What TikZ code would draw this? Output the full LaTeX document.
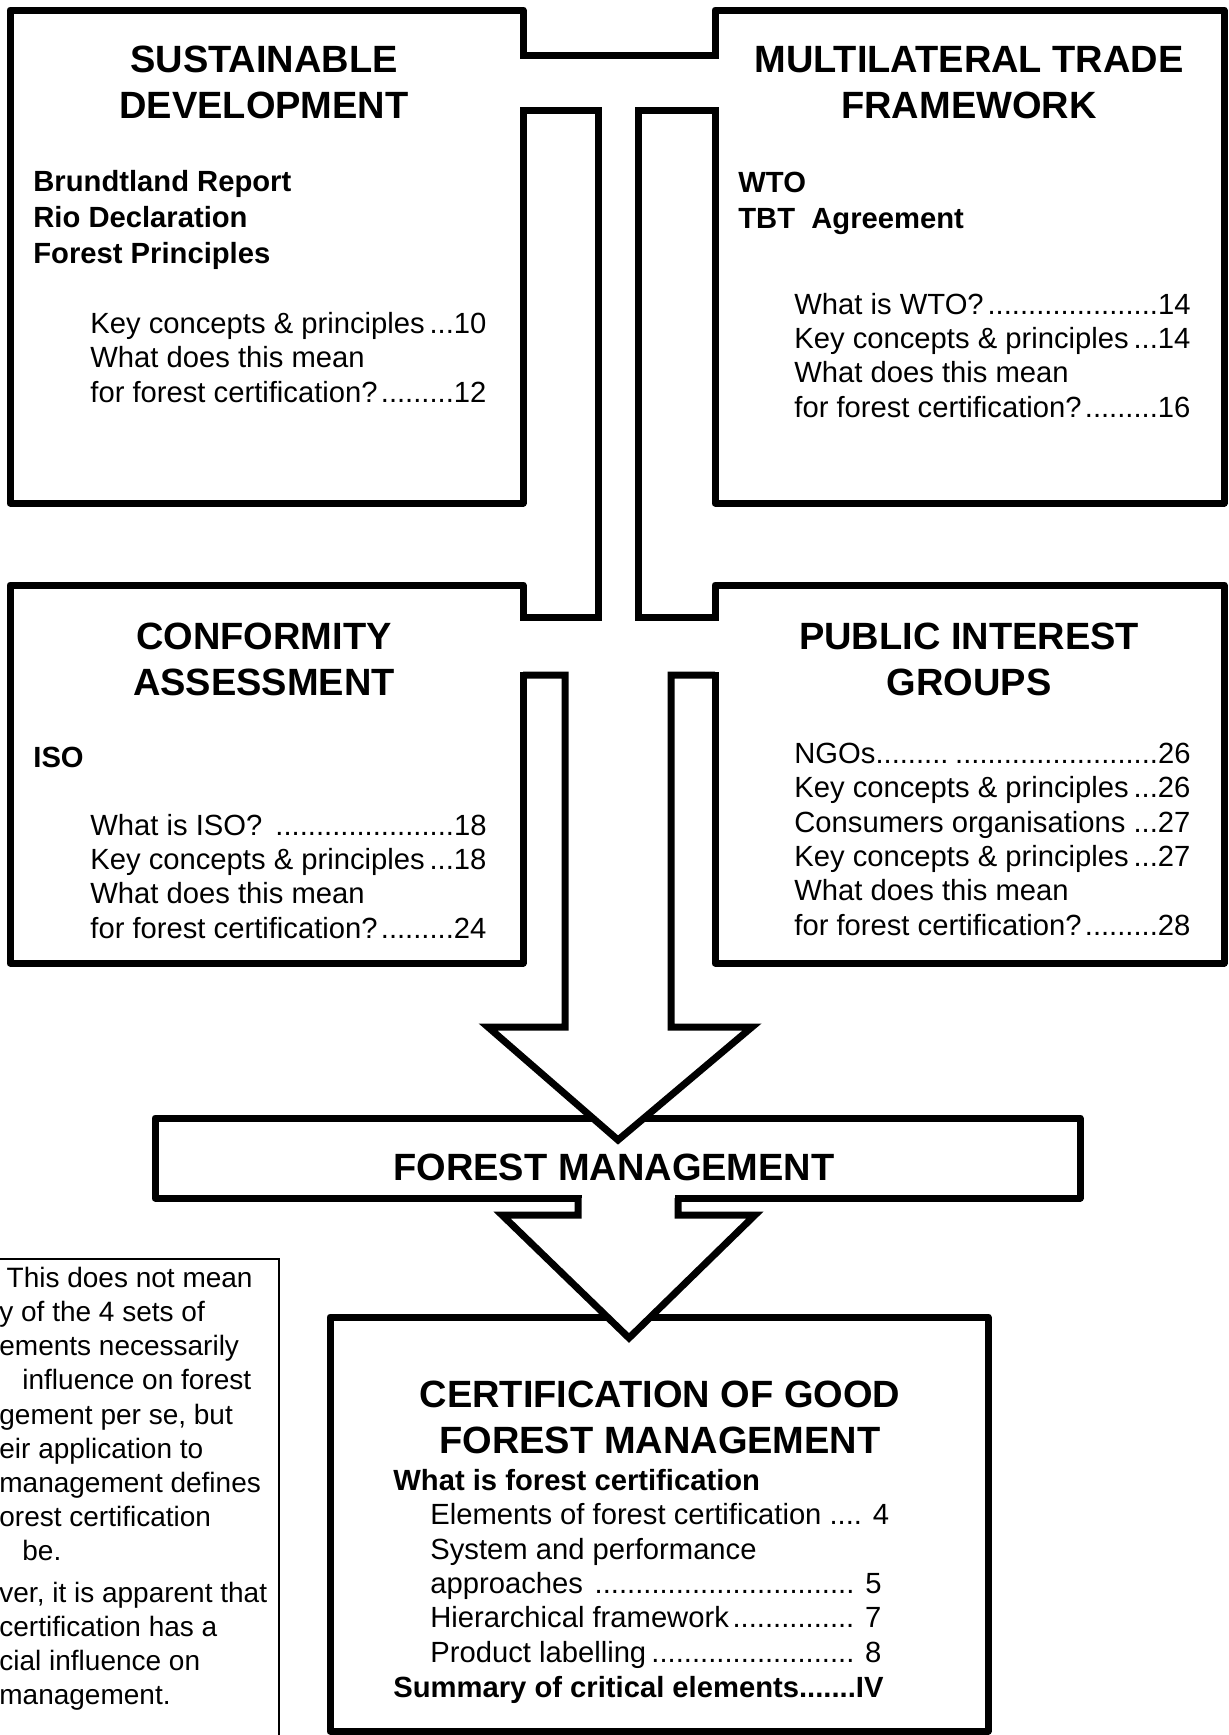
\documentclass[tikz,border=0pt]{standalone}
\usepackage{fontspec}
\setmainfont{Liberation Sans}
\usepackage{tikz}
\tikzstyle{frame} = [rectangle, draw=black, line width=3.5pt, line join=round,
    inner sep=0pt, outer sep=0pt]
\tikzstyle{band} = [draw=black, line width=3.5pt]
\tikzstyle{title} = [anchor=base, align=center, inner sep=0pt,
    font=\fontsize{19}{23}\selectfont\bfseries]
\tikzstyle{heads} = [anchor=base west, align=left, inner sep=0pt,
    font=\fontsize{14.6}{18}\selectfont\bfseries]
\tikzstyle{toc} = [anchor=base west, align=left, inner sep=0pt,
    font=\fontsize{14.6}{17.15}\selectfont]
\tikzstyle{notetext} = [inner sep=0pt, font=\fontsize{14}{17}\selectfont]
\newcommand{\pageentry}[3][198pt]{\makebox[#1][l]{#2\hfill#3}}

\begin{document}
\begin{tikzpicture}[x=0.5pt, y=-0.5pt]
  \useasboundingbox (0,0) rectangle (1228,1735);
  \clip (0,0) rectangle (1228,1735);

  % the four boxes
  \node (sd)  [frame, minimum width=256.5pt, minimum height=246.5pt] at (266.5,256.5) {};
  \node (mtf) [frame, minimum width=254.5pt, minimum height=246.5pt] at (969.5,256.5) {};
  \node (ca)  [frame, minimum width=256.5pt, minimum height=189pt] at (266.5,774) {};
  \node (pig) [frame, minimum width=254.5pt, minimum height=189pt] at (969.5,774) {};

  % openings in the box edges
  \fill[white] (519,58.5) rectangle (719,106.5);
  \fill[white] (519,620.5) rectangle (719,671.5);

  % bands between the boxes
  \draw[band] (sd.east |- 0,55) -- (mtf.west |- 0,55);
  \draw[band] (sd.east |- 0,110) -- (598,110) -- (598,617) -- (ca.east |- 0,617);
  \draw[band] (mtf.west |- 0,110) -- (638,110) -- (638,617) -- (pig.west |- 0,617);

  % forest management bar
  \node (fm) [frame, minimum width=462.5pt, minimum height=40pt] at (617.5,1158) {};
  \node (fmtext) [title] at (614,1180) {FOREST MANAGEMENT};

  % big arrow down into the bar
  \filldraw[band, fill=white] (ca.east |- 0,675) -- (565,675) -- (565,1027) -- (488,1027)
      -- (618,1140) -- (752,1027) -- (671,1027) -- (671,675) -- (pig.west |- 0,675);

  % certification box and second arrow
  \node (cert) [frame, minimum width=329pt, minimum height=207pt] at (659,1524) {};
  \fill[white] (581.5,1193) rectangle (674.5,1199);
  \filldraw[band, fill=white] (fm.south -| 578,0) -- (578,1215) -- (502,1215) -- (629,1338)
      -- (755,1215) -- (678,1215) -- (fm.south -| 678,0);

  % note box, cut by the page edge
  \node (note) [rectangle, draw=black, line width=0.8pt, minimum width=160pt,
      minimum height=260pt, anchor=north east] at (280,1258) {};

  % box texts (placed at the baseline of their last line)
  \node (sdtitle) [title] at (264,118) {SUSTAINABLE\\DEVELOPMENT};
  \node (sdhead) [heads] at (33,263) {Brundtland Report\\Rio Declaration\\Forest Principles};
  \node (sdtoc) [toc] at (90,402)
      {\pageentry{Key concepts \& principles}{...10}\\
       What does this mean\\
       \pageentry{for forest certification?}{.........12}};

  \node (mtftitle) [title] at (969,118) {MULTILATERAL TRADE\\FRAMEWORK};
  \node (mtfhead) [heads] at (738,228) {WTO\\TBT\ \ Agreement};
  \node (mtftoc) [toc] at (794,417)
      {\pageentry{What is WTO?}{.....................14}\\
       \pageentry{Key concepts \& principles}{...14}\\
       What does this mean\\
       \pageentry{for forest certification?}{.........16}};

  \node (catitle) [title] at (264,695) {CONFORMITY\\ASSESSMENT};
  \node (cahead) [heads] at (33,767) {ISO};
  \node (catoc) [toc] at (90,938)
      {\pageentry{What is ISO? }{......................18}\\
       \pageentry{Key concepts \& principles}{...18}\\
       What does this mean\\
       \pageentry{for forest certification?}{.........24}};

  \node (pigtitle) [title] at (969,695) {PUBLIC INTEREST\\GROUPS};
  \node (pigtoc) [toc] at (794,935)
      {\pageentry{NGOs.........}{.........................26}\\
       \pageentry{Key concepts \& principles}{...26}\\
       \pageentry{Consumers organisations }{...27}\\
       \pageentry{Key concepts \& principles}{...27}\\
       What does this mean\\
       \pageentry{for forest certification?}{.........28}};

  \node (certtitle) [title] at (660,1453) {CERTIFICATION OF GOOD\\FOREST MANAGEMENT};
  \node (certhead) [heads] at (393,1490) {What is forest certification};
  \node (certtoc) [toc] at (430,1662)
      {\pageentry[225.5pt]{Elements of forest certification }{.... 4}\\
       System and performance\\
       \pageentry[225.5pt]{approaches }{................................ 5}\\
       \pageentry[225.5pt]{Hierarchical framework}{............... 7}\\
       \pageentry[225.5pt]{Product labelling}{......................... 8}};
  \node (certsum) [heads] at (393,1697)
      {\pageentry[244pt]{Summary of critical elements}{.......IV}};

  % note lines, cut at the left page edge
  \foreach \y/\x/\a/\txt [count=\i] in {1287/253/base east/This does not mean,
      1321/-1/base west/y of the 4 sets of, 1355/-1/base west/ements necessarily,
      1389/22/base west/influence on forest, 1424/-1/base west/{gement per se, but},
      1458/-1/base west/eir application to, 1492/-1/base west/management defines,
      1526/-1/base west/orest certification, 1560/22/base west/be.,
      1602/-1/base west/{ver, it is apparent that}, 1636/-1/base west/certification has a,
      1670/-1/base west/cial influence on, 1704/-1/base west/management.}
    \node (note\i) [notetext, anchor=\a] at (\x,\y) {\txt};
\end{tikzpicture}
\end{document}
